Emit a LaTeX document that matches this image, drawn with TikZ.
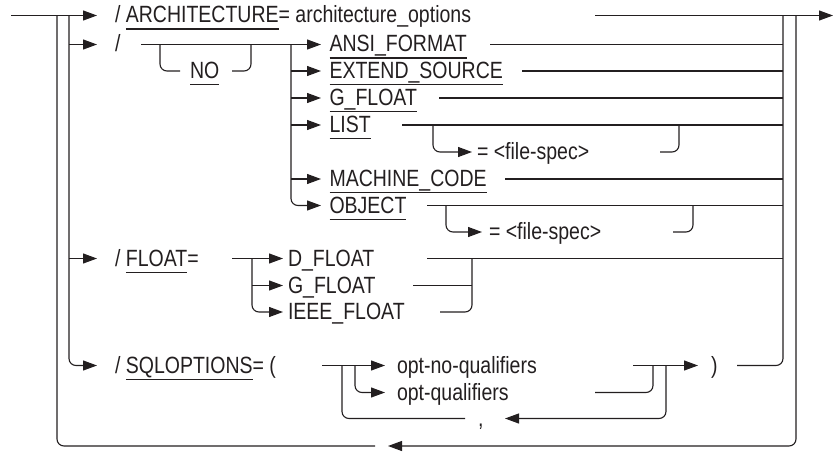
\documentclass[tikz,border=0pt]{standalone}
\usepackage{fontspec}
\setmainfont{Liberation Sans}[FakeStretch=0.83]
\usetikzlibrary{arrows.meta}
\definecolor{ink}{RGB}{35,31,32}
\newcommand\kwu[1]{{\setbox0\hbox{#1}\rlap{\rule[-6.6pt]{\wd0}{1.1pt}}\box0}}
\def\rA{15.5}\def\rB{44.5}\def\rC{71}\def\rD{98}\def\rE{125}\def\rF{152}
\def\rG{179}\def\rH{205.5}\def\rI{232}\def\rJ{258.5}\def\rK{285.5}\def\rL{312}
\def\rM{365.5}\def\rN{392.5}\def\rO{418.5}\def\rP{446}
\begin{document}
\begin{tikzpicture}[x=1pt,y=-1pt,
  rail/.style={line width=1.1pt, draw=ink, rounded corners=7pt},
  arr/.style={rail, -{Triangle[length=14pt,width=10pt]}},
  txt/.style={anchor=base west, inner sep=0pt, outer sep=0pt, text=ink,
              font=\fontsize{23.5}{28}\selectfont}]
\useasboundingbox (0,0) rectangle (835,452);
% junction coordinates
\coordinate (start) at (11,\rA);
\coordinate (L1) at (57,\rA);
\coordinate (L2) at (69,\rA);
\coordinate (R1) at (783,\rA);
\coordinate (R2) at (796,\rA);
\coordinate (end) at (833,\rA);
% ---- texts ----
\node[txt] (arch) at (115,\rA+7.5) {/ \kwu{ARCHITECTURE}= architecture\_options};
\node[txt] (sl) at (115,\rB+7.5) {/};
\node[txt] (no) at (190,\rC+7.5) {\kwu{NO}};
\node[txt] (ansi) at (329.5,\rB+7.5) {\kwu{ANSI\_FORMAT}};
\node[txt] (ext) at (329.5,\rC+7.5) {\kwu{EXTEND\_SOURCE}};
\node[txt] (gfl) at (329.5,\rD+7.5) {\kwu{G\_FLOAT}};
\node[txt] (list) at (329.5,\rE+7.5) {\kwu{LIST}};
\node[txt] (fs1) at (477,\rF+7.5) {= <file-spec>};
\node[txt] (mach) at (329.5,\rG+7.5) {\kwu{MACHINE\_CODE}};
\node[txt] (obj) at (329.5,\rH+7.5) {\kwu{OBJECT}};
\node[txt] (fs2) at (489,\rI+7.5) {= <file-spec>};
\node[txt] (flt) at (115,\rJ+7.5) {/ \kwu{FLOAT}=};
\node[txt] (dfl) at (288,\rJ+7.5) {D\_FLOAT};
\node[txt] (gfl2) at (288,\rK+7.5) {G\_FLOAT};
\node[txt] (ieee) at (288,\rL+7.5) {IEEE\_FLOAT};
\node[txt] (sql) at (115,\rM+7.5) {/ \kwu{SQLOPTIONS}= (};
\node[txt] (onq) at (397,\rM+7.5) {opt-no-qualifiers};
\node[txt] (oq) at (397,\rN+7.5) {opt-qualifiers};
\node[txt] (comma) at (478,\rO+7.5) {,};
\node[txt] (rpar) at (711,\rM+7.5) {)};
% ---- main line and loop ----
\draw[arr] (start) -- (97,\rA);
\draw[arr] (595,\rA) -- (end);
\draw[rail] (L1) -- (57,\rP) -- (375,\rP);
\draw[arr] (R2) -- (796,\rP) -- (388,\rP);
\draw[arr] (L2) -- (69,\rM) -- (97,\rM);
\draw[arr] (69,\rB) -- (97,\rB);
\draw[arr] (69,\rJ) -- (97,\rJ);
\draw[rail] (R1) -- (783,\rM) -- (737,\rM);
% ---- row 2 ----
\draw[arr] (141,\rB) -- (321,\rB);
\draw[rail] (160,\rB) -- (160,\rC) -- (180,\rC);
\draw[rail] (232,\rC) -- (251,\rC) -- (251,\rB);
\draw[arr] (291,\rB) -- (291,\rH) -- (321,\rH);
\foreach \yy in {\rC,\rD,\rE,\rG} \draw[arr] (291,\yy) -- (321,\yy);
\draw[rail] (490,\rB) -- (783,\rB);
\draw[rail] (522,\rC) -- (783,\rC);
\draw[rail] (439,\rD) -- (783,\rD);
\draw[rail] (402,\rE) -- (783,\rE);
\draw[arr] (433,\rE) -- (433,\rF) -- (472,\rF);
\draw[rail] (660,\rF) -- (679,\rF) -- (679,\rE);
\draw[rail] (505,\rG) -- (783,\rG);
\draw[rail] (427,\rH) -- (783,\rH);
\draw[arr] (446,\rH) -- (446,\rI) -- (482,\rI);
\draw[rail] (673,\rI) -- (693,\rI) -- (693,\rH);
% ---- FLOAT ----
\draw[arr] (232,\rJ) -- (283,\rJ);
\draw[arr] (252,\rJ) -- (252,\rL) -- (283,\rL);
\draw[arr] (252,\rK) -- (283,\rK);
\draw[rail] (427,\rJ) -- (783,\rJ);
\draw[rail] (413,\rK) -- (472,\rK);
\draw[rail] (440,\rL) -- (472,\rL) -- (472,\rJ);
% ---- SQLOPTIONS ----
\draw[arr] (322,\rM) -- (385,\rM);
\draw[arr] (355,\rM) -- (355,\rN) -- (385,\rN);
\draw[rail] (342,\rM) -- (342,\rO) -- (465,\rO);
\draw[arr] (633,\rM) -- (698,\rM);
\draw[rail] (595,\rN) -- (653,\rN) -- (653,\rM);
\draw[arr] (666,\rM) -- (666,\rO) -- (505,\rO);
\end{tikzpicture}
\end{document}
